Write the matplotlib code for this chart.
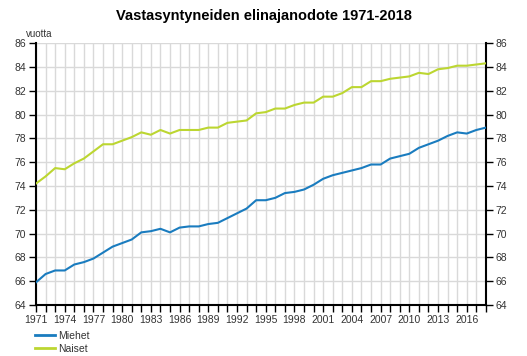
import numpy as np
import matplotlib.pyplot as plt
from matplotlib.ticker import MultipleLocator
from matplotlib.lines import Line2D

plt.rcParams['font.family'] = ['Liberation Sans', 'DejaVu Sans']

years = list(range(1971, 2019))
miehet = [65.9, 66.6, 66.9, 66.9, 67.4, 67.6, 67.9, 68.4, 68.9, 69.2,
          69.5, 70.1, 70.2, 70.4, 70.1, 70.5, 70.6, 70.6, 70.8, 70.9,
          71.3, 71.7, 72.1, 72.8, 72.8, 73.0, 73.4, 73.5, 73.7, 74.1,
          74.6, 74.9, 75.1, 75.3, 75.5, 75.8, 75.8, 76.3, 76.5, 76.7,
          77.2, 77.5, 77.8, 78.2, 78.5, 78.4, 78.7, 78.9]
naiset = [74.2, 74.8, 75.5, 75.4, 75.9, 76.3, 76.9, 77.5, 77.5, 77.8,
          78.1, 78.5, 78.3, 78.7, 78.4, 78.7, 78.7, 78.7, 78.9, 78.9,
          79.3, 79.4, 79.5, 80.1, 80.2, 80.5, 80.5, 80.8, 81.0, 81.0,
          81.5, 81.5, 81.8, 82.3, 82.3, 82.8, 82.8, 83.0, 83.1, 83.2,
          83.5, 83.4, 83.8, 83.9, 84.1, 84.1, 84.2, 84.3]

blue = '#1a7cbf'
green = '#bcd631'

fig = plt.figure(figsize=(5.27, 3.56), dpi=100)
ax = fig.add_axes([0.0683, 0.1433, 0.8537, 0.7357])

ax.plot(years, miehet, color=blue, lw=1.5, zorder=3)
ax.plot(years, naiset, color=green, lw=1.5, zorder=3)

ax.set_xlim(1971, 2018)
ax.set_ylim(64, 86)
ax.xaxis.set_major_locator(MultipleLocator(3))
ax.xaxis.set_minor_locator(MultipleLocator(1))
ax.yaxis.set_major_locator(MultipleLocator(2))
ax.grid(True, which='both', axis='x', color='#d9d9d9', lw=1, zorder=0)
ax.grid(True, which='major', axis='y', color='#d9d9d9', lw=1, zorder=0)

ax.spines['top'].set_visible(False)
for s in ['left', 'right', 'bottom']:
    ax.spines[s].set_linewidth(1.5)
    ax.spines[s].set_color('black')

ax.tick_params(axis='x', which='both', direction='out', length=5, width=1,
               labelsize=7.5, colors='black', labelcolor='#333333', pad=2)
ax.tick_params(axis='y', which='major', direction='out', length=5, width=1,
               labelsize=7.5, labelcolor='#333333', left=True, right=True,
               labelleft=True, labelright=True, pad=2)

fig.text(0.5, 0.955, 'Vastasyntyneiden elinajanodote 1971-2018',
         ha='center', va='center', fontsize=10.5, fontweight='bold')
fig.text(0.0494, 0.905, 'vuotta', fontsize=7, color='#333333', va='center')

handles = [Line2D([], [], color=blue, lw=2), Line2D([], [], color=green, lw=2)]
fig.legend(handles, ['Miehet', 'Naiset'], loc='upper left',
           bbox_to_anchor=(35 / 527, 1 - 331 / 356), frameon=False, fontsize=7.5,
           borderpad=0, borderaxespad=0,
           handlelength=1.9, labelspacing=0.3, handletextpad=0.35,
           labelcolor='#333333')

fig.savefig('out.png', dpi=100)
